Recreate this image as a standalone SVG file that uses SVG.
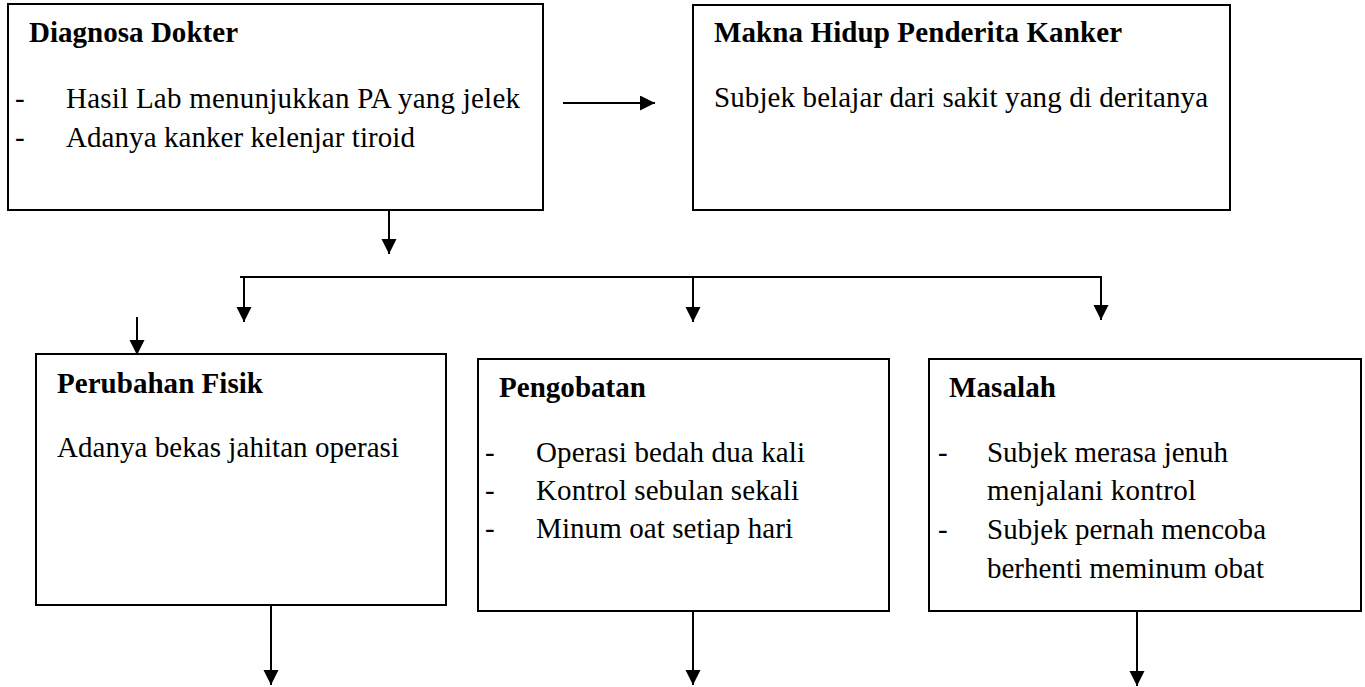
<svg xmlns="http://www.w3.org/2000/svg" width="1365" height="687" viewBox="0 0 1365 687">
<style>
.box{fill:#fff;stroke:#000;stroke-width:2}
.t{font-family:"Liberation Serif","Times New Roman",serif;font-size:29px;fill:#000}
.b{font-weight:bold}
.c{stroke:#000;stroke-width:2;fill:none;marker-end:url(#ah)}
</style>
<defs>
<marker id="ah" markerUnits="userSpaceOnUse" markerWidth="16" markerHeight="16" refX="15" refY="7.5" orient="auto">
<path d="M0,0 L15,7.5 L0,15 z" fill="#000"/>
</marker>
</defs>
<rect width="1365" height="687" fill="#fff"/>
<g id="connectors">
<line class="c" x1="563" y1="103" x2="655" y2="103"/>
<line class="c" x1="389" y1="211" x2="389" y2="254"/>
<line x1="240" y1="277" x2="1102" y2="277" stroke="#000" stroke-width="2"/>
<line class="c" x1="244" y1="277" x2="244" y2="322"/>
<line class="c" x1="693" y1="277" x2="693" y2="322"/>
<line class="c" x1="1101" y1="277" x2="1101" y2="320"/>
<line class="c" x1="137" y1="317" x2="137" y2="355"/>
<line class="c" x1="271" y1="606" x2="271" y2="685"/>
<line class="c" x1="693" y1="612" x2="693" y2="685"/>
<line class="c" x1="1137" y1="612" x2="1137" y2="686"/>
</g>
<g id="diagnosa">
<rect class="box" x="8" y="4" width="535" height="206"/>
<text class="t b" x="29" y="42" textLength="209">Diagnosa Dokter</text>
<text class="t" x="15" y="108">-</text>
<text class="t" x="66" y="108" textLength="454">Hasil Lab menunjukkan PA yang jelek</text>
<text class="t" x="15" y="147">-</text>
<text class="t" x="66" y="147" textLength="349">Adanya kanker kelenjar tiroid</text>
</g>
<g id="makna">
<rect class="box" x="693" y="5" width="537" height="205"/>
<text class="t b" x="714" y="42" textLength="408">Makna Hidup Penderita Kanker</text>
<text class="t" x="714" y="107" textLength="494">Subjek belajar dari sakit yang di deritanya</text>
</g>
<g id="perubahan">
<rect class="box" x="36" y="354" width="410" height="251"/>
<text class="t b" x="57" y="393" textLength="206">Perubahan Fisik</text>
<text class="t" x="57" y="457" textLength="342">Adanya bekas jahitan operasi</text>
</g>
<g id="pengobatan">
<rect class="box" x="478" y="359" width="411" height="252"/>
<text class="t b" x="499" y="397" textLength="147">Pengobatan</text>
<text class="t" x="485" y="462">-</text>
<text class="t" x="536" y="462" textLength="269">Operasi bedah dua kali</text>
<text class="t" x="485" y="500">-</text>
<text class="t" x="536" y="500" textLength="263">Kontrol sebulan sekali</text>
<text class="t" x="485" y="538">-</text>
<text class="t" x="536" y="538" textLength="257">Minum oat setiap hari</text>
</g>
<g id="masalah">
<rect class="box" x="929" y="359" width="432" height="252"/>
<text class="t b" x="949" y="397" textLength="107">Masalah</text>
<text class="t" x="938" y="462">-</text>
<text class="t" x="987" y="462" textLength="241">Subjek merasa jenuh</text>
<text class="t" x="987" y="500" textLength="209">menjalani kontrol</text>
<text class="t" x="938" y="539">-</text>
<text class="t" x="987" y="539" textLength="279">Subjek pernah mencoba</text>
<text class="t" x="987" y="578" textLength="277">berhenti meminum obat</text>
</g>
</svg>
